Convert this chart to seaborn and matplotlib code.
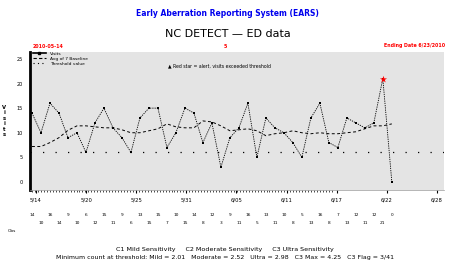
import numpy as np
import pandas as pd
import matplotlib
matplotlib.use("Agg")
import matplotlib.pyplot as plt
from matplotlib.lines import Line2D
from matplotlib.transforms import blended_transform_factory
import seaborn as sns

# ---------------- data ----------------
visits = [14, 10, 16, 14, 9, 10, 6, 12, 15, 11, 9, 6, 13, 15, 15, 7, 10, 15, 14, 8,
          12, 3, 9, 11, 16, 5, 13, 11, 10, 8, 5, 13, 16, 8, 7, 13, 12, 11, 12, 21, 0]
baseline = [7.2, 7.2, 8.0, 9.0, 10.5, 11.4, 11.4, 11.2, 11.0, 11.0, 10.6, 10.0, 10.0, 10.4,
            10.8, 11.8, 11.2, 11.0, 11.0, 12.4, 12.2, 11.4, 10.4, 10.6, 10.8, 10.4, 9.4, 9.8,
            10.0, 10.4, 10.0, 9.8, 10.0, 9.8, 9.8, 10.0, 10.2, 10.8, 11.4, 11.4, 11.8]
threshold = 6
alert_days = [39]
x_labels = ["5/14", "5/20", "5/25", "5/31", "6/05", "6/11", "6/17", "6/22", "6/28"]
y_ticks = [0, 5, 10, 15, 20, 25]

df = pd.DataFrame({"day": np.arange(len(visits)), "visits": visits, "baseline": baseline})

# ---------------- figure ----------------
W, H = 455, 271
fig = plt.figure(figsize=(W / 100, H / 100), dpi=100)
fig.patch.set_facecolor("white")
ax = fig.add_axes([30 / W, 81 / H, 414 / W, 138 / H])
ax.set_facecolor("#e4e4e4")

def fx(px):
    return px / W

def fy(py):
    return 1 - py / H

sns.lineplot(data=df, x="day", y="visits", ax=ax, color="black", linewidth=0.6,
             linestyle=(0, (1.5, 1.2)), marker="s", markersize=2.0, markeredgewidth=0,
             legend=False)
sns.lineplot(data=df, x="day", y="baseline", ax=ax, color="black", linewidth=0.7,
             linestyle=(0, (3, 2.5)), legend=False)
ax.axhline(threshold, color="black", linewidth=0.9, linestyle=(0, (1, 9)))
ax.scatter(alert_days, [visits[d] for d in alert_days], marker="*", s=28,
           color="red", zorder=5, linewidths=0)

ax.set_xlim(-0.22, 45.8)
ax.set_ylim(-1.63, 26.4)
ax.set_yticks(y_ticks)
ax.set_yticklabels([str(t) for t in y_ticks], fontsize=3.6)
ax.set_xticks(np.linspace(0.45, 45, len(x_labels)))
ax.set_xticklabels(x_labels, fontsize=3.8)
ax.set_xticks(np.arange(0, 33.5, 0.33), minor=True)
ax.tick_params(axis="x", which="major", length=2.5, width=0.8, pad=3)
ax.tick_params(axis="x", which="minor", length=1.5, width=0.5)
ax.tick_params(axis="y", length=0, pad=5)
ax.set_xlabel("")
ax.set_ylabel("V\ni\ns\ni\nt\ns", rotation=0, fontsize=3.8, fontweight="bold",
              labelpad=9, va="center", linespacing=1.1)
for s in ["top", "right"]:
    ax.spines[s].set_visible(False)
ax.spines["left"].set_linewidth(2)
ax.spines["bottom"].set_linewidth(0.5)
ax.spines["bottom"].set_color("#999999")

# legend
handles = [Line2D([], [], color="black", lw=1.2, marker="s", markersize=1.8),
           Line2D([], [], color="black", lw=0.8, linestyle=(0, (3, 2))),
           Line2D([], [], color="black", lw=0.8, linestyle=(0, (1, 3)))]
ax.legend(handles, ["Visits", "Avg of 7 Baseline", "Threshold value"], loc="upper left",
          bbox_to_anchor=(0.0, 1.02), frameon=False, fontsize=3.2, handlelength=3,
          handletextpad=0.8, labelspacing=0.15, borderaxespad=0.2)
fig.text(fx(168), fy(66), "\u25B2 Red star = alert, visits exceeded threshold", fontsize=3.3,
         va="center", ha="left")

# titles
fig.text(0.5, fy(14), "Early Aberration Reporting System (EARS)", color="#0000ee",
         fontsize=5.5, fontweight="bold", ha="center", va="center")
fig.text(0.5, fy(34), "NC DETECT \u2014 ED data", color="black", fontsize=8,
         ha="center", va="center")
fig.text(fx(33), fy(46), "2010-05-14", color="red", fontsize=3.4, fontweight="bold",
         ha="left", va="center")
fig.text(fx(225), fy(46), "5", color="red", fontsize=3.4, fontweight="bold",
         ha="center", va="center")
fig.text(fx(445), fy(46), "Ending Date 6/23/2010", color="red", fontsize=3.4,
         fontweight="bold", ha="right", va="center")

# daily counts row under axis
tr = blended_transform_factory(ax.transData, fig.transFigure)
for i, v in enumerate(visits):
    ax.text(i, fy(215 if i % 2 == 0 else 223), str(v), transform=tr, fontsize=3.1,
            ha="center", va="center")
fig.text(fx(8), fy(231), "Obs", fontsize=3.1, ha="left", va="center")

# bottom notes
fig.text(0.495, fy(249), "C1 Mild Sensitivity     C2 Moderate Sensitivity     C3 Ultra Sensitivity",
         fontsize=4.6, ha="center", va="center")
fig.text(0.495, fy(257),
         "Minimum count at threshold: Mild = 2.01   Moderate = 2.52   Ultra = 2.98   C3 Max = 4.25   C3 Flag = 3/41",
         fontsize=4.5, ha="center", va="center")

fig.savefig("out.png", dpi=100)
